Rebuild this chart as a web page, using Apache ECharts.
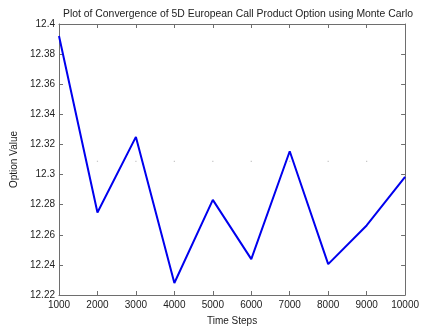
<!DOCTYPE html>
<html>
<head>
<meta charset="utf-8">
<script src="https://cdn.jsdelivr.net/npm/echarts@6/dist/echarts.min.js"></script>
<style>
  html, body { margin: 0; padding: 0; background: #fff; }
  #chart { width: 422px; height: 331px; }
</style>
</head>
<body>
<div id="chart"></div>
<script>
// Monte Carlo estimate of the option value vs. number of time steps
const timeSteps = [1000, 2000, 3000, 4000, 5000, 6000, 7000, 8000, 9000, 10000];
const optionValues = [12.392, 12.2748, 12.325, 12.228, 12.2832, 12.2438, 12.3155, 12.2405, 12.2662, 12.2985];

// faint reference markers
const refSteps = [2000, 3000, 4000, 5000, 6000, 7000, 8000, 9000];
const refLevel = [12.3088, 12.3088, 12.3088, 12.3088, 12.3088, 12.3088, 12.3088, 12.3088];

const titleText = 'Plot of Convergence of 5D European Call Product Option using Monte Carlo';
const xName = 'Time Steps';
const yName = 'Option Value';

const FONT = '"Liberation Sans", Arial, Helvetica, sans-serif';
const AX = '#6e6e6e';
const TXT = '#222';

const fmtY = v => String(Number(v.toFixed(2)));
const fmtX = v => String(Math.round(v));

const chart = echarts.init(document.getElementById('chart'), null, { renderer: 'canvas' });

const boxAxis = {
  axisLine: { show: true, onZero: false, lineStyle: { color: AX, width: 1 } },
  axisTick: { show: true, inside: true, length: 4, lineStyle: { color: AX } },
  splitLine: { show: false },
  axisLabel: { show: false }
};

chart.setOption({
  animation: false,
  backgroundColor: '#fff',
  title: {
    text: titleText,
    left: 233,
    textAlign: 'center',
    top: 4,
    textStyle: { fontFamily: FONT, fontSize: 10.4, fontWeight: 'normal', color: TXT }
  },
  grid: { left: 59, top: 24, right: 15, bottom: 34, containLabel: false },
  xAxis: [
    {
      type: 'value', min: 1000, max: 10000, interval: 1000,
      name: xName, nameLocation: 'middle', nameGap: 21,
      nameTextStyle: { fontFamily: FONT, fontSize: 10, color: TXT },
      axisLine: { show: true, onZero: false, lineStyle: { color: AX, width: 1 } },
      axisTick: { show: true, inside: true, length: 4, lineStyle: { color: AX } },
      splitLine: { show: false },
      axisLabel: { fontFamily: FONT, fontSize: 10, color: TXT, margin: 5, formatter: fmtX }
    },
    Object.assign({ type: 'value', position: 'top', min: 1000, max: 10000, interval: 1000 }, boxAxis)
  ],
  yAxis: [
    {
      type: 'value', min: 12.22, max: 12.4, interval: 0.02,
      name: yName, nameLocation: 'middle', nameGap: 39, nameRotate: 90,
      nameTextStyle: { fontFamily: FONT, fontSize: 10, color: TXT },
      axisLine: { show: true, onZero: false, lineStyle: { color: AX, width: 1 } },
      axisTick: { show: true, inside: true, length: 4, lineStyle: { color: AX } },
      splitLine: { show: false },
      axisLabel: { fontFamily: FONT, fontSize: 10, color: TXT, margin: 4, formatter: fmtY }
    },
    Object.assign({ type: 'value', position: 'right', min: 12.22, max: 12.4, interval: 0.02 }, boxAxis)
  ],
  series: [
    {
      type: 'scatter',
      data: refSteps.map((s, i) => [s, refLevel[i]]),
      symbol: 'rect', symbolSize: 1.2,
      itemStyle: { color: '#b8b8b8' },
      silent: true, z: 1
    },
    {
      type: 'line',
      data: timeSteps.map((s, i) => [s, optionValues[i]]),
      showSymbol: false,
      lineStyle: { color: '#0000ee', width: 2 },
      silent: true, z: 2
    }
  ]
});
</script>
</body>
</html>
